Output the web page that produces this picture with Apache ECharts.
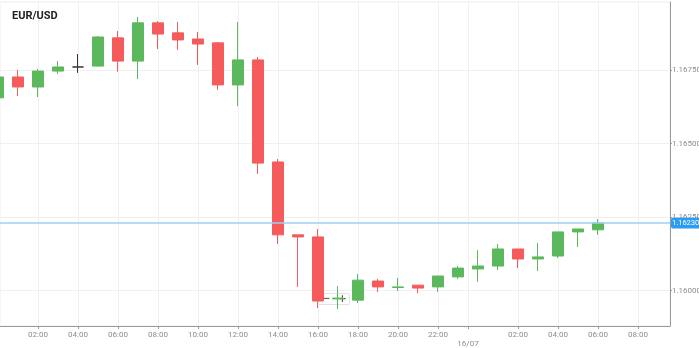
<!DOCTYPE html>
<html><head><meta charset="utf-8">
<script src="https://cdn.jsdelivr.net/npm/echarts@6/dist/echarts.min.js"></script>
<style>html,body{margin:0;padding:0;background:#fff}#c{width:699px;height:348px}</style>
</head><body><div id="c"></div>
<script>
// hour index of each hourly candle (0 = 00:00 on 15/07)
const hours = [0,1,2,3,4,5,6,7,8,9,10,11,12,13,14,15,16,17,18,19,20,21,22,23,24,25,26,27,28,29,30];
const opens  = [1.16656,1.16727,1.16693,1.16747,1.16761,1.16764,1.16860,1.16781,1.16911,1.16877,1.16856,1.16843,1.16700,1.16785,1.16438,1.16190,1.16183,1.15972,1.15968,1.16033,1.16011,1.16019,1.16013,1.16047,1.16074,1.16084,1.16142,1.16108,1.16118,1.16200,1.16207];
const closes = [1.16727,1.16693,1.16747,1.16761,1.16761,1.16863,1.16781,1.16911,1.16873,1.16853,1.16839,1.16700,1.16785,1.16434,1.16190,1.16183,1.15965,1.15975,1.16036,1.16013,1.16013,1.16009,1.16050,1.16077,1.16084,1.16142,1.16108,1.16115,1.16200,1.16210,1.16230];
const lows   = [1.16649,1.16662,1.16659,1.16737,1.16741,1.16764,1.16745,1.16720,1.16822,1.16819,1.16768,1.16683,1.16628,1.16397,1.16159,1.16013,1.15941,1.15938,1.15958,1.15996,1.15999,1.15992,1.15996,1.16040,1.16030,1.16070,1.16077,1.16067,1.16111,1.16149,1.16190];
const highs  = [1.16734,1.16751,1.16754,1.16781,1.16805,1.16866,1.16883,1.16931,1.16917,1.16914,1.16880,1.16846,1.16914,1.16795,1.16448,1.16190,1.16210,1.16016,1.16057,1.16040,1.16043,1.16019,1.16050,1.16084,1.16138,1.16159,1.16142,1.16162,1.16200,1.16210,1.16244];
const xTickHours = [2,4,6,8,10,12,14,16,18,20,22,23.5,26,28,30,32];
const xTickLabels = ['02:00','04:00','06:00','08:00','10:00','12:00','14:00','16:00','18:00','20:00','22:00','16/07','02:00','04:00','06:00','08:00'];
const yTicks = [1.16000,1.16250,1.16500,1.16750];
const lastPrice = 1.16230;
const crossIndex = 4;

const green = '#5cb85c', red = '#f55b5b';
const data = hours.map((h,i)=>{
  const v = [h, opens[i], closes[i], lows[i], highs[i]];
  if (i === crossIndex) return {value:v, itemStyle:{color:'#333',color0:'#333',borderColor:'#333',borderColor0:'#333',borderColorDoji:'#333'}};
  return v;
});

const chart = echarts.init(document.getElementById('c'), null, {renderer:'canvas'});
const labelFont = {fontFamily:'Roboto', fontSize:8, color:'#8c8c8c'};
chart.setOption({
  animation:false,
  title:{text:'EUR/USD', left:7, top:6, textStyle:{fontFamily:'Roboto', fontSize:11, fontWeight:'bold', color:'#222'}},
  grid:{left:0, right:29, top:2, bottom:22, show:true, borderColor:'#eeeeee', borderWidth:1, outerBoundsMode:'none', containLabel:false},
  xAxis:{
    type:'value', min:0.1, max:33.6,
    axisLine:{show:true, onZero:false, lineStyle:{color:'#9a9a9a', width:1}},
    axisTick:{show:true, length:3, customValues:xTickHours, lineStyle:{color:'#9a9a9a'}},
    axisLabel:Object.assign({}, labelFont, {customValues:xTickHours, margin:4, lineHeight:9,
      formatter:(v)=>{const i = xTickHours.indexOf(v); const t = i>=0 ? xTickLabels[i] : ''; return v===23.5 ? '\n'+t : t;}}),
    splitLine:{show:true, lineStyle:{color:'#f0f0f0', width:1}}
  },
  yAxis:{
    type:'value', position:'right', min:1.15880, max:1.16982, scale:true,
    axisLine:{show:true, lineStyle:{color:'#9a9a9a', width:1}},
    axisTick:{show:true, length:2, customValues:yTicks, lineStyle:{color:'#9a9a9a'}},
    axisLabel:Object.assign({}, labelFont, {customValues:yTicks, margin:2, formatter:(v)=>v.toFixed(5)}),
    splitLine:{show:true, lineStyle:{color:'#f0f0f0', width:1}}
  },
  series:[{
    type:'candlestick',
    data:data,
    barWidth:12,
    encode:{x:0, y:[1,2,3,4]},
    itemStyle:{color:green, color0:red, borderColor:green, borderColor0:red, borderColorDoji:green, borderWidth:1}
  },{
    type:'line',
    data:[],
    markLine:{
      silent:true, symbol:['none','none'], precision:5,
      lineStyle:{color:'#9ccff2', width:1.5, type:'solid'},
      label:{show:true, position:'end', formatter:()=>lastPrice.toFixed(5), fontFamily:'Roboto', fontSize:7.5,
        color:'#fff', backgroundColor:'#2d9bf0', padding:[2,1,1,1], borderRadius:2, distance:1},
      data:[{yAxis:lastPrice}]
    }
  }],
  graphic:[{
    type:'group', left:317, top:293,
    children:[
      {type:'rect', shape:{x:0,y:0,width:32,height:11,r:1}, style:{fill:'rgba(255,255,255,0.75)', stroke:'#e2e2e2', lineWidth:1}},
      {type:'text', x:9, y:5.5, style:{text:'−', fontFamily:'DejaVu Sans', fontSize:9, fontWeight:'bold', fill:'#555', align:'center', verticalAlign:'middle'}},
      {type:'text', x:25, y:5.5, style:{text:'+', fontFamily:'DejaVu Sans', fontSize:10, fontWeight:'bold', fill:'#555', align:'center', verticalAlign:'middle'}}
    ]
  }]
});
</script>
</body></html>
